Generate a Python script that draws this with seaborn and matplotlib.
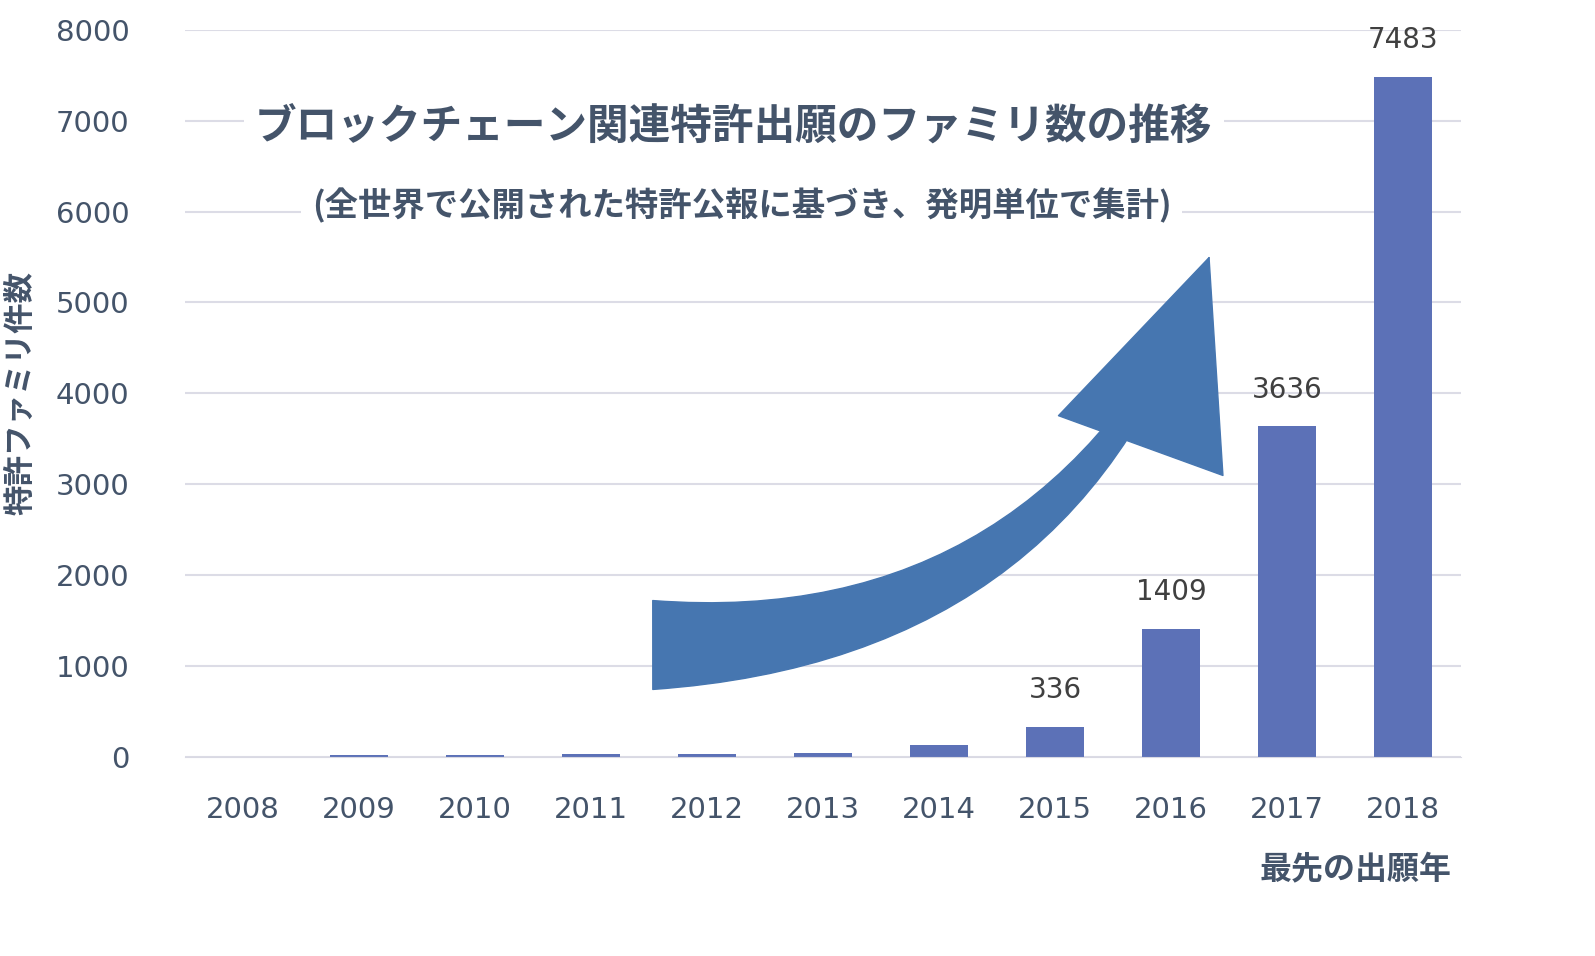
import matplotlib
matplotlib.use("Agg")
import matplotlib.pyplot as plt
import seaborn as sns
import pandas as pd
from matplotlib.patches import FancyArrowPatch

years = ['2008', '2009', '2010', '2011', '2012', '2013', '2014', '2015', '2016', '2017', '2018']
counts = [2, 20, 20, 35, 35, 50, 130, 336, 1409, 3636, 7483]
labeled = {'2015', '2016', '2017', '2018'}
yticks = [0, 1000, 2000, 3000, 4000, 5000, 6000, 7000, 8000]

plt.rcParams['font.family'] = 'Noto Sans CJK JP'
text_c = '#44546a'

fig = plt.figure(figsize=(15.95, 9.56), dpi=100)
ax = fig.add_axes([0.116, 0.208, 0.8, 0.761])
df = pd.DataFrame({'year': years, 'count': counts})
sns.barplot(data=df, x='year', y='count', color='#4d69c6', width=0.5, ax=ax, zorder=2)

for p, y, c in zip(ax.patches, years, counts):
    if y in labeled:
        ax.text(p.get_x() + p.get_width() / 2, c + 250, str(c), ha='center', va='bottom',
                fontsize=20, color='#404040', family='DejaVu Sans')

ax.set_ylim(0, 8000)
ax.set_yticks(yticks)
ax.grid(axis='y', color='#dcdce6', linewidth=1.5, zorder=0)
ax.set_axisbelow(True)
for s in ['top', 'right', 'left']:
    ax.spines[s].set_visible(False)
ax.spines['bottom'].set_color('#d9d9e3')
ax.tick_params(length=0, labelsize=21, labelcolor=text_c)
ax.tick_params(axis='x', pad=28)
ax.tick_params(axis='y', pad=40)
for t in ax.get_xticklabels() + ax.get_yticklabels():
    t.set_family('DejaVu Sans')
ax.set_xlabel('')
ax.set_ylabel('特許ファミリ件数', fontsize=22, fontweight='bold', color=text_c, labelpad=14)
fig.text(0.91, 0.08, '最先の出願年', fontsize=23, fontweight='bold', color=text_c, ha='right')

fig.text(0.46, 0.868, 'ブロックチェーン関連特許出願のファミリ数の推移', fontsize=30, fontweight='bold',
         color=text_c, ha='center', va='center', bbox=dict(fc='white', ec='none', pad=8))
fig.text(0.465, 0.785, '(全世界で公開された特許公報に基づき、発明単位で集計)', fontsize=24, fontweight='bold',
         color=text_c, ha='center', va='center', bbox=dict(fc='white', ec='none', pad=8))

arrow = FancyArrowPatch((650, 956 - 645), (1210, 956 - 255), transform=None,
                        connectionstyle='arc3,rad=0.35',
                        arrowstyle='wedge,tail_width=3.2,shrink_factor=0.5',
                        mutation_scale=20, color='#4676b0', zorder=5)
fig.patches.append(arrow)
head = FancyArrowPatch((1150, 956 - 420), (1210, 956 - 255), transform=None,
                       arrowstyle='simple,head_width=7,head_length=8,tail_width=0.1',
                       mutation_scale=18, color='#4676b0', zorder=5)
fig.patches.append(head)

fig.savefig('out.png', dpi=100)
